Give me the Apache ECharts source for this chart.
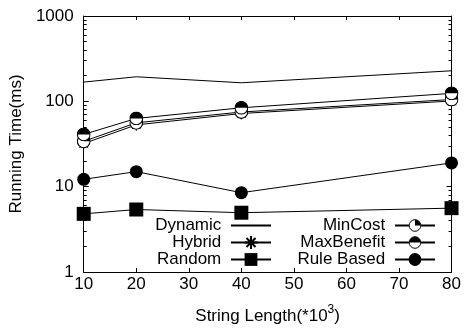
<!DOCTYPE html>
<html>
<head>
<meta charset="utf-8">
<script src="https://cdn.jsdelivr.net/npm/echarts@6/dist/echarts.min.js"></script>
<style>html,body{margin:0;padding:0;background:#fff}#c{width:464px;height:332px}</style>
</head>
<body>
<div id="c"></div>
<script>
const xValues = [10, 20, 40, 80];
const dynamicVals = [168, 194, 165, 228];
const hybridVals = [32, 53, 72, 101];
const randomVals = [4.8, 5.4, 4.95, 5.6];
const minCostVals = [34, 56, 75, 105];
const maxBenefitVals = [41, 63, 84, 124];
const ruleBasedVals = [12.2, 15, 8.5, 19];
const yTickLabels = ['1', '10', '100', '1000'];
const xTickLabels = ['10', '20', '30', '40', '50', '60', '70', '80'];

const FONT = "'Liberation Sans', Arial, sans-serif";
const FS = 17;
const pair = v => v.map((y, i) => [xValues[i], y]);

function svgUri(inner) {
  const s = "<svg xmlns='http://www.w3.org/2000/svg' width='26' height='26' viewBox='0 0 26 26'>" + inner + "</svg>";
  return 'image://data:image/svg+xml;utf8,' + encodeURIComponent(s);
}
const quarterSym = svgUri("<circle cx='13' cy='13' r='11.8' fill='white' stroke='black' stroke-width='2'/><path d='M13 13 L13 1.2 A11.8 11.8 0 0 1 24.8 13 Z' fill='black'/>");
const halfSym = svgUri("<circle cx='13' cy='13' r='11.8' fill='white' stroke='black' stroke-width='2'/><path d='M1.2 13 A11.8 11.8 0 0 1 24.8 13 Z' fill='black'/>");
const starSym = 'path://M12 0L12 24M0 12L24 12M3.5 3.5L20.5 20.5M20.5 3.5L3.5 20.5';

const chart = echarts.init(document.getElementById('c'), null, {renderer: 'canvas'});
const lineBase = (name, data, symbol, size, extra) => Object.assign({
  name, type: 'line', data: pair(data), symbol, symbolSize: size,
  xAxisIndex: 0, yAxisIndex: 0,
  lineStyle: {color: '#000', width: 1},
  itemStyle: {color: '#000', borderWidth: 0},
  emphasis: {disabled: true}, animation: false
}, extra || {});

const axisCommon = {
  axisLine: {show: true, lineStyle: {color: '#000', width: 1}},
  splitLine: {show: false}
};
const minorTick = {show: true, splitNumber: 9, length: 3, lineStyle: {color: '#000', width: 1}};

chart.setOption({
  animation: false,
  grid: {left: 66, right: 7, top: 16, bottom: 60},
  xAxis: [
    Object.assign({
      type: 'value', min: 10, max: 80, interval: 10, position: 'bottom',
      axisTick: {inside: true, length: 4, lineStyle: {color: '#000'}},
      axisLabel: {color: '#000', fontSize: FS, fontFamily: FONT, margin: 4,
        formatter: v => xTickLabels[Math.round(v / 10) - 1]},
      name: '{a|String Length(*10}{s|3}{a|)}',
      nameLocation: 'middle', nameGap: 32,
      nameTextStyle: {rich: {
        a: {fontSize: FS, fontFamily: FONT, color: '#000', verticalAlign: 'bottom', lineHeight: 21},
        s: {fontSize: 12, fontFamily: FONT, color: '#000', verticalAlign: 'top', padding: [0, 0, 8, 0], lineHeight: 21}
      }}
    }, axisCommon),
    Object.assign({
      type: 'value', min: 10, max: 80, interval: 10, position: 'top',
      axisTick: {inside: true, length: 4, lineStyle: {color: '#000'}},
      axisLabel: {show: false}
    }, axisCommon)
  ],
  yAxis: [
    Object.assign({
      type: 'log', logBase: 10, min: 1, max: 1000, position: 'left',
      axisTick: {inside: true, length: 5, lineStyle: {color: '#000'}},
      minorTick: minorTick,
      axisLabel: {color: '#000', fontSize: FS, fontFamily: FONT, margin: 10,
        formatter: v => yTickLabels[Math.round(Math.log10(v))]},
      name: 'Running Time(ms)', nameLocation: 'middle', nameGap: 42,
      nameTextStyle: {fontSize: FS, fontFamily: FONT, color: '#000'}
    }, axisCommon),
    Object.assign({
      type: 'log', logBase: 10, min: 1, max: 1000, position: 'right',
      axisTick: {inside: true, length: 5, lineStyle: {color: '#000'}},
      minorTick: minorTick,
      axisLabel: {show: false}
    }, axisCommon)
  ],
  legend: [
    {
      data: [{name: 'Dynamic', itemStyle: {opacity: 0}}, 'Hybrid', 'Random'], orient: 'vertical', align: 'right',
      right: 187, top: 212, itemWidth: 40, itemHeight: 16, itemGap: 0,
      formatter: n => n + ' ', selectedMode: false,
      textStyle: {fontSize: FS, fontFamily: FONT, color: '#000'}
    },
    {
      data: ['MinCost', 'MaxBenefit', 'Rule Based'], orient: 'vertical', align: 'right',
      right: 23, top: 212, itemWidth: 40, itemHeight: 16, itemGap: 0,
      formatter: n => n + ' ', selectedMode: false,
      textStyle: {fontSize: FS, fontFamily: FONT, color: '#000'}
    }
  ],
  series: [
    lineBase('Dynamic', dynamicVals, 'none', 0),
    lineBase('Hybrid', hybridVals, starSym, 12, {itemStyle: {color: '#000', borderColor: '#000', borderWidth: 1}}),
    lineBase('Random', randomVals, 'rect', 14),
    lineBase('MinCost', minCostVals, quarterSym, 14),
    lineBase('MaxBenefit', maxBenefitVals, halfSym, 14),
    lineBase('Rule Based', ruleBasedVals, 'circle', 13)
  ]
});
</script>
</body>
</html>
